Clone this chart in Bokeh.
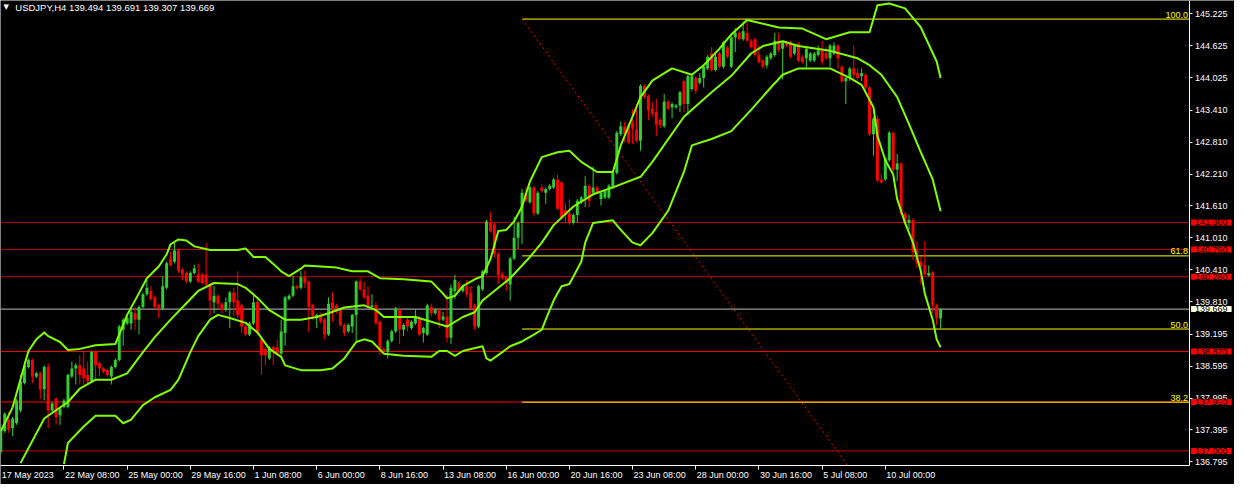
from bokeh.plotting import figure
from bokeh.models import Range1d, FixedTicker, PrintfTickFormatter, Label, ColumnDataSource
from bokeh.embed import file_html
from bokeh.resources import INLINE

# ---------------- data (USDJPY, H4) ----------------
opens = [
    136.98, 137.37, 137.58, 137.43, 137.52, 137.76, 138.28, 138.58, 138.71, 138.40,
    138.46, 138.16, 138.58, 137.76, 137.98, 137.67, 137.83, 137.83, 138.40, 138.55,
    138.61, 138.55, 138.43, 138.31, 138.86, 138.65, 138.55, 138.52, 138.40, 138.58,
    138.71, 139.28, 139.40, 139.40, 139.59, 139.47, 139.71, 139.95, 140.01, 139.89,
    139.74, 139.68, 140.07, 140.62, 140.56, 140.77, 140.41, 140.35, 140.19, 140.35,
    140.32, 140.32, 140.32, 140.13, 139.80, 139.92, 139.77, 139.65, 139.80, 139.98,
    139.83, 139.74, 139.34, 139.19, 139.40, 139.80, 139.10, 138.92, 138.74, 138.95,
    138.95, 138.83, 139.22, 139.86, 139.92, 140.10, 140.07, 140.27, 140.18, 139.74,
    139.50, 139.56, 139.47, 139.19, 139.80, 139.74, 139.65, 139.37, 139.25, 139.34,
    139.56, 140.19, 140.04, 139.92, 139.71, 139.74, 139.43, 138.92, 138.86, 139.07,
    139.25, 139.66, 139.28, 139.47, 139.31, 139.40, 139.50, 139.22, 139.19, 139.71,
    139.59, 139.65, 139.47, 139.53, 139.13, 140.01, 140.16, 140.01, 140.10, 139.98,
    139.74, 139.34, 140.04, 140.35, 141.29, 141.26, 140.71, 140.33, 140.27, 140.13,
    140.62, 141.01, 141.29, 141.86, 141.68, 141.96, 141.47, 141.96, 141.86, 141.93,
    141.96, 142.11, 142.05, 141.53, 141.47, 141.29, 141.44, 141.68, 141.77, 141.99,
    141.86, 141.96, 141.74, 141.77, 141.77, 141.96, 142.23, 142.96, 143.11, 143.14,
    143.17, 143.05, 142.84, 143.87, 143.68, 143.44, 143.38, 143.23, 143.11, 143.57,
    143.47, 143.47, 143.50, 143.96, 143.53, 143.81, 144.02, 143.93, 144.02, 144.20,
    144.48, 144.17, 144.48, 144.23, 144.60, 144.23, 144.78, 144.87, 144.75, 144.87,
    144.72, 144.75, 144.45, 144.35, 144.26, 144.39, 144.45, 144.72, 144.57, 144.69,
    144.69, 144.48, 144.66, 144.42, 144.39, 144.35, 144.35, 144.45, 144.54, 144.48,
    144.39, 144.48, 144.63, 144.23, 143.96, 144.02, 144.20, 144.11, 144.05, 144.08,
    143.84, 142.96, 143.25, 142.11, 142.11, 142.47, 142.99, 142.29, 142.41, 141.47,
    141.29, 141.35, 140.77, 140.56, 140.50, 140.30, 140.36, 139.74, 139.494,
]
highs = [
    137.50, 137.73, 137.73, 137.64, 137.98, 138.43, 138.68, 138.74, 138.74, 138.49,
    138.49, 138.61, 138.65, 137.92, 138.01, 137.83, 137.98, 138.46, 138.68, 138.65,
    138.80, 138.86, 138.68, 138.89, 138.89, 138.68, 138.58, 138.55, 138.61, 138.74,
    139.37, 139.50, 139.53, 139.65, 139.71, 139.74, 139.98, 140.22, 140.10, 139.92,
    139.77, 140.29, 140.56, 140.74, 140.92, 140.80, 140.44, 140.38, 140.38, 140.50,
    140.53, 140.35, 140.92, 140.16, 140.10, 139.95, 139.80, 139.89, 140.01, 140.07,
    140.38, 139.77, 139.37, 139.43, 139.92, 139.89, 139.16, 138.95, 138.98, 138.98,
    139.10, 139.47, 139.92, 139.95, 140.29, 140.13, 140.38, 140.39, 140.21, 139.77,
    139.58, 139.59, 139.50, 139.89, 139.98, 139.77, 139.68, 139.40, 139.40, 139.58,
    140.21, 140.25, 140.19, 140.10, 139.95, 139.80, 139.46, 138.95, 139.10, 139.28,
    139.71, 139.70, 139.40, 139.50, 139.46, 139.65, 139.53, 139.34, 139.77, 139.77,
    139.68, 139.68, 139.62, 139.95, 140.13, 140.31, 140.19, 140.13, 140.22, 140.10,
    139.77, 140.13, 140.40, 141.35, 141.50, 141.29, 140.74, 140.38, 140.30, 140.65,
    141.41, 141.32, 141.93, 141.96, 141.99, 141.99, 141.89, 142.02, 141.96, 142.02,
    142.14, 142.20, 142.08, 141.65, 141.74, 141.47, 141.74, 141.80, 142.17, 142.02,
    142.35, 141.99, 141.89, 141.92, 142.02, 142.26, 143.02, 143.20, 143.20, 143.17,
    143.44, 143.53, 143.90, 143.90, 143.71, 143.57, 143.63, 143.26, 143.72, 143.60,
    143.56, 143.53, 143.78, 143.99, 144.08, 144.08, 144.05, 144.11, 144.26, 144.45,
    144.60, 144.48, 144.51, 144.72, 144.63, 144.81, 144.96, 144.90, 145.08, 145.08,
    144.75, 144.78, 144.63, 144.38, 144.45, 144.51, 144.87, 144.87, 144.72, 144.72,
    144.72, 144.66, 144.69, 144.45, 144.60, 144.51, 144.51, 144.63, 144.72, 144.60,
    144.66, 144.69, 144.66, 144.26, 144.05, 144.23, 144.63, 144.20, 144.20, 144.11,
    143.87, 143.29, 143.32, 142.20, 142.53, 143.02, 143.01, 142.59, 142.44, 141.50,
    141.44, 141.38, 140.94, 140.65, 140.95, 140.49, 140.39, 139.77, 139.691,
]
lows = [
    136.93, 137.34, 137.34, 137.28, 137.49, 137.73, 138.25, 138.55, 138.28, 138.37,
    137.98, 137.95, 137.43, 137.73, 137.49, 137.49, 137.80, 137.80, 138.37, 138.25,
    138.25, 138.25, 138.25, 138.28, 138.31, 138.40, 138.46, 138.40, 138.25, 138.55,
    138.68, 138.98, 139.37, 139.28, 139.28, 139.19, 139.68, 139.92, 139.83, 139.68,
    139.50, 139.65, 140.04, 140.47, 140.53, 140.35, 140.22, 140.16, 140.16, 140.32,
    140.16, 140.13, 140.10, 139.56, 139.59, 139.68, 139.59, 139.62, 139.31, 139.53,
    139.50, 139.22, 139.16, 139.16, 139.37, 139.19, 138.43, 138.61, 138.71, 138.61,
    138.80, 138.80, 138.98, 139.83, 139.89, 140.04, 140.04, 140.07, 139.23, 139.47,
    139.31, 139.40, 139.10, 139.16, 139.43, 139.59, 139.34, 139.16, 139.22, 139.22,
    139.07, 140.01, 139.86, 139.68, 139.68, 139.38, 138.80, 138.83, 138.74, 139.04,
    139.22, 139.01, 139.16, 139.25, 139.28, 139.37, 139.16, 139.04, 139.16, 139.53,
    139.56, 139.31, 139.44, 139.04, 139.01, 139.86, 139.98, 139.98, 139.89, 139.65,
    139.28, 139.31, 140.01, 140.32, 141.11, 140.65, 140.15, 140.22, 140.01, 139.83,
    140.59, 140.80, 140.89, 141.68, 141.65, 141.41, 141.44, 141.86, 141.65, 141.90,
    141.93, 141.53, 141.35, 141.29, 141.26, 141.26, 141.29, 141.65, 141.59, 141.59,
    141.83, 141.83, 141.62, 141.74, 141.74, 141.93, 142.20, 142.93, 142.81, 142.78,
    142.78, 142.81, 142.65, 143.63, 143.23, 143.29, 142.93, 143.08, 143.08, 143.41,
    143.26, 143.44, 143.38, 143.38, 143.32, 143.78, 143.72, 143.90, 143.84, 144.17,
    144.14, 144.14, 144.20, 144.20, 144.39, 144.20, 144.51, 144.72, 144.72, 144.69,
    144.57, 144.42, 144.29, 144.20, 144.20, 144.36, 144.42, 144.51, 143.99, 144.60,
    144.39, 144.45, 144.32, 144.29, 144.20, 144.32, 144.32, 144.42, 144.26, 144.36,
    144.23, 144.45, 144.20, 143.93, 143.53, 143.96, 143.96, 143.99, 143.96, 143.78,
    142.93, 142.56, 142.06, 142.03, 142.08, 142.44, 142.23, 142.08, 141.44, 141.26,
    141.17, 140.59, 140.44, 140.13, 140.30, 140.28, 139.59, 139.37, 139.307,
]
closes = [
    137.40, 137.70, 137.40, 137.61, 137.95, 138.31, 138.61, 138.71, 138.40, 138.46,
    138.16, 138.58, 137.76, 137.89, 137.64, 137.80, 137.95, 138.43, 138.55, 138.61,
    138.43, 138.37, 138.31, 138.86, 138.61, 138.55, 138.49, 138.43, 138.58, 138.71,
    139.34, 139.47, 139.50, 139.62, 139.47, 139.71, 139.95, 140.07, 139.86, 139.71,
    139.68, 140.10, 140.53, 140.50, 140.77, 140.38, 140.32, 140.19, 140.35, 140.44,
    140.19, 140.16, 140.13, 139.83, 139.92, 139.77, 139.65, 139.80, 139.98, 139.80,
    139.56, 139.34, 139.19, 139.40, 139.80, 139.22, 138.80, 138.80, 138.95, 138.86,
    138.83, 139.25, 139.89, 139.92, 140.10, 140.06, 140.27, 140.16, 139.71, 139.53,
    139.56, 139.43, 139.19, 139.77, 139.65, 139.62, 139.37, 139.22, 139.37, 139.56,
    140.19, 140.04, 139.89, 139.71, 139.74, 139.40, 138.89, 138.86, 139.07, 139.25,
    139.68, 139.28, 139.37, 139.34, 139.43, 139.50, 139.19, 139.31, 139.74, 139.59,
    139.65, 139.47, 139.53, 139.13, 140.07, 140.22, 140.01, 140.10, 139.95, 139.68,
    139.34, 140.10, 140.38, 141.32, 141.14, 140.71, 140.31, 140.25, 140.16, 140.62,
    141.01, 141.29, 141.86, 141.71, 141.96, 141.47, 141.86, 141.89, 141.93, 141.99,
    142.11, 141.56, 141.38, 141.44, 141.29, 141.44, 141.71, 141.77, 141.99, 141.71,
    141.96, 141.86, 141.86, 141.89, 141.99, 142.23, 142.99, 143.11, 142.96, 142.81,
    143.08, 142.84, 143.87, 143.66, 143.41, 143.35, 143.14, 143.14, 143.57, 143.44,
    143.53, 143.50, 143.75, 143.53, 144.05, 144.05, 143.78, 144.02, 144.23, 144.42,
    144.17, 144.42, 144.23, 144.69, 144.42, 144.78, 144.87, 144.75, 144.90, 144.72,
    144.60, 144.45, 144.32, 144.23, 144.42, 144.48, 144.72, 144.54, 144.69, 144.63,
    144.42, 144.63, 144.35, 144.32, 144.57, 144.48, 144.48, 144.54, 144.32, 144.39,
    144.63, 144.63, 144.39, 143.96, 144.02, 144.20, 144.08, 144.02, 144.11, 143.84,
    142.96, 143.25, 142.09, 142.05, 142.50, 142.99, 142.29, 142.41, 141.47, 141.29,
    141.35, 140.74, 140.53, 140.47, 140.32, 140.35, 139.74, 139.50, 139.669,
]

# channel indicator (upper / middle / lower)
upper_bar = [0, 3, 7, 9, 11, 12, 15, 17, 20, 24, 29, 31, 32, 35, 37, 40, 42, 43, 45, 47,
             49, 53, 60, 62, 64, 67, 69, 71, 73, 76, 77, 85, 89, 93, 96, 102, 109, 112, 113, 115,
             117, 120, 122, 124, 126, 128, 130, 132, 134, 137, 141, 144, 147, 151, 155, 157, 162, 165, 170, 175,
             178, 182, 185, 189, 197, 203, 209, 215, 220, 222, 225, 229, 233, 237, 238]
upper_val = [137.37, 137.82, 138.88, 139.10, 139.23, 139.16, 139.05, 138.90, 138.92, 138.99,
             139.01, 139.37, 139.56, 139.97, 140.25, 140.47, 140.70, 140.89, 140.98, 140.96,
             140.85, 140.78, 140.78, 140.81, 140.65, 140.65, 140.52, 140.38, 140.29, 140.43,
             140.49, 140.45, 140.38, 140.38, 140.25, 140.23, 140.19, 139.96, 139.87, 139.92,
             140.10, 140.23, 140.29, 140.61, 141.14, 141.16, 141.32, 141.60, 142.07, 142.53,
             142.62, 142.65, 142.44, 142.25, 142.25, 142.75, 143.66, 143.97, 144.20, 144.08,
             144.26, 144.57, 144.84, 145.11, 144.97, 144.95, 144.75, 144.88, 144.88, 145.39,
             145.42, 145.33, 144.97, 144.33, 144.02]
mid_bar = [5, 11, 17, 20, 24, 28, 32, 36, 39, 43, 47, 50, 54, 60, 62, 65, 68, 72, 76, 80,
           83, 87, 92, 95, 97, 105, 110, 113, 117, 120, 122, 126, 129, 134, 137, 140, 145, 150, 155, 162,
           165, 173, 180, 185, 190, 193, 198, 202, 210, 217, 220, 223, 227, 230, 233, 236, 238]
mid_val = [136.77, 137.61, 137.92, 138.17, 138.34, 138.34, 138.46, 138.86, 139.14, 139.47,
           139.78, 140.01, 140.16, 140.14, 140.07, 139.88, 139.65, 139.47, 139.47, 139.52,
           139.59, 139.70, 139.74, 139.65, 139.52, 139.52, 139.41, 139.34, 139.52, 139.61,
           139.83, 140.07, 140.25, 140.65, 140.92, 141.25, 141.60, 141.83, 141.96, 142.16,
           142.44, 143.29, 143.75, 144.06, 144.48, 144.62, 144.71, 144.62, 144.53, 144.39,
           144.26, 144.08, 143.66, 143.15, 142.62, 142.11, 141.51]
low_bar = [16, 17, 21, 24, 29, 31, 33, 36, 39, 43, 45, 48, 50, 53, 55, 58, 62, 65, 68, 71,
           72, 76, 81, 84, 87, 90, 92, 94, 97, 102, 109, 111, 113, 115, 117, 122, 123, 124, 127, 129,
           132, 135, 137, 138, 140, 142, 144, 147, 148, 150, 155, 157, 160, 162, 165, 169, 173, 175, 180, 185,
           190, 195, 198, 202, 210, 215, 218, 221, 222, 224, 226, 227, 229, 231, 233, 234, 236, 237, 238]
low_val = [136.75, 137.15, 137.46, 137.66, 137.66, 137.52, 137.59, 137.86, 138.01, 138.15,
           138.34, 138.86, 139.16, 139.47, 139.56, 139.50, 139.41, 139.23, 138.92, 138.77,
           138.61, 138.52, 138.52, 138.55, 138.74, 139.05, 139.10, 139.06, 138.83, 138.79,
           138.77, 138.88, 138.88, 138.79, 138.88, 138.97, 138.74, 138.70, 138.86, 138.97,
           139.06, 139.19, 139.28, 139.47, 139.83, 140.10, 140.14, 140.56, 140.92, 141.29,
           141.34, 141.16, 140.92, 140.87, 141.10, 141.52, 142.25, 142.75, 142.87, 143.02,
           143.42, 143.84, 144.08, 144.20, 144.20, 144.02, 143.89, 143.47, 142.93, 142.47,
           142.20, 141.74, 141.29, 140.92, 140.38, 139.96, 139.47, 139.10, 138.95]

# horizontal levels
hline_vals = [141.300, 140.790, 140.280, 138.870, 137.920, 137.000]
hline_colors = ["#C00000", "#C00000", "#C00000", "#FF0000", "#FF0000", "#C00000"]
bid_price = 139.669

# Fibonacci
fib_levels = [100.0, 61.8, 50.0, 38.2]
fib_high = 145.128
fib_low = 133.46
fib_start_bar = 132
fib_end_bar = 246.5

# axis ticks / labels
ytick_vals = [145.225, 144.625, 144.025, 143.410, 142.810, 142.210, 141.610, 141.010,
              140.410, 139.810, 139.195, 138.595, 137.995, 137.395, 136.795]
date_tick_bars = [0, 16, 32, 48, 64, 80, 96, 112, 128, 144, 160, 176, 192, 208, 224]
date_labels = ["17 May 2023", "22 May 08:00", "25 May 00:00", "29 May 16:00", "1 Jun 08:00",
               "6 Jun 00:00", "8 Jun 16:00", "13 Jun 08:00", "16 Jun 00:00", "20 Jun 16:00",
               "23 Jun 08:00", "28 Jun 00:00", "30 Jun 16:00", "5 Jul 08:00", "10 Jul 00:00"]
title_text = "USDJPY,H4  139.494 139.691 139.307 139.669"

# ---------------- layout ----------------
W, H = 1234, 484
REF_W, REF_H = 1250, 500          # layout grid of the original screen
PX_PER_BAR = 4.0                  # in the original grid
PX_PER_PRICE = 54.88
X_START = -0.075
Y_TOP = 145.478
X_END = X_START + REF_W / PX_PER_BAR
Y_BOTTOM = Y_TOP - REF_H / PX_PER_PRICE
CHART_RIGHT = X_START + 1204 / PX_PER_BAR
CHART_BOTTOM = Y_TOP - 480 / PX_PER_PRICE


def rx(px):
    return X_START + px / PX_PER_BAR


def ry(pyv):
    return Y_TOP - pyv / PX_PER_PRICE


FONT = "Liberation Sans"
UP = "#32CD32"
DOWN = "#FF0000"
BAND = "#80FF00"

p = figure(width=W, height=H, output_backend="svg", toolbar_location=None, title=None,
           x_range=Range1d(X_START, X_END), y_range=Range1d(Y_BOTTOM, Y_TOP),
           y_axis_location="right", x_axis_location="below",
           min_border_left=0, min_border_top=0, min_border_right=0, min_border_bottom=0)
p.background_fill_color = "black"
p.border_fill_color = "black"
p.outline_line_color = None
p.grid.visible = False

# price axis (right), placed at the chart edge
p.yaxis.fixed_location = CHART_RIGHT
p.yaxis.bounds = (CHART_BOTTOM, Y_TOP)
p.yaxis.ticker = FixedTicker(ticks=ytick_vals)
p.yaxis.formatter = PrintfTickFormatter(format="%.3f")
p.yaxis.major_label_text_color = "white"
p.yaxis.major_label_text_font = FONT
p.yaxis.major_label_text_font_size = "9px"
p.yaxis.axis_line_color = "white"
p.yaxis.major_tick_line_color = "white"
p.yaxis.major_tick_out = 3
p.yaxis.major_tick_in = 0
p.yaxis.minor_tick_line_color = None
p.yaxis.major_label_standoff = 3

# time axis (bottom): ticks; labels left-aligned as annotations
p.xaxis.fixed_location = CHART_BOTTOM
p.xaxis.bounds = (X_START, CHART_RIGHT)
p.xaxis.ticker = FixedTicker(ticks=date_tick_bars[1:])
p.xaxis.axis_line_color = "white"
p.xaxis.major_tick_line_color = "white"
p.xaxis.major_tick_out = 4
p.xaxis.major_tick_in = 0
p.xaxis.minor_tick_line_color = None
p.xaxis.major_label_text_font_size = "1px"
p.xaxis.major_label_text_alpha = 0
p.xaxis.major_label_standoff = 0

# horizontal level lines (stop at the price scale)
nh = len(hline_vals)
p.segment(x0=[X_START] * nh, y0=hline_vals, x1=[CHART_RIGHT] * nh, y1=hline_vals,
          line_color=hline_colors, line_width=1)
p.segment(x0=[X_START], y0=[bid_price], x1=[CHART_RIGHT], y1=[bid_price],
          line_color="#C0C0C0", line_width=1)

# Fibonacci
fib_prices = [fib_low + (fib_high - fib_low) * l / 100.0 for l in fib_levels]
nf = len(fib_prices)
p.segment(x0=[fib_start_bar] * nf, y0=fib_prices, x1=[CHART_RIGHT] * nf, y1=fib_prices,
          line_color="#FFFF00", line_width=1)
t_cut = (fib_high - CHART_BOTTOM) / (fib_high - fib_low)
diag_end_bar = fib_start_bar + t_cut * (fib_end_bar - fib_start_bar)
p.line([fib_start_bar, diag_end_bar], [fib_high, CHART_BOTTOM], line_color="#FF0000",
       line_width=1, line_dash="2 3")

# candles
n = len(opens)
idx = list(range(n))
cols = [UP if c >= o else DOWN for o, c in zip(opens, closes)]
tops = [max(o, c) for o, c in zip(opens, closes)]
bots = [min(o, c) for o, c in zip(opens, closes)]
bots = [b if t - b > 0.012 else t - 0.012 for t, b in zip(tops, bots)]
src = ColumnDataSource(dict(x=idx, top=tops, bot=bots, hi=highs, lo=lows, col=cols))
p.segment(x0="x", y0="lo", x1="x", y1="hi", line_color="col", line_width=1, source=src)
p.vbar(x="x", width=0.75, top="top", bottom="bot", fill_color="col", line_color=None, source=src)

# channel bands
for bars, vals in ((upper_bar, upper_val), (mid_bar, mid_val), (low_bar, low_val)):
    p.line(bars, vals, line_color=BAND, line_width=2, line_join="round")

# fib labels
for l, fp in zip(fib_levels, fib_prices):
    p.add_layout(Label(x=rx(1203), y=fp + 1.5 / PX_PER_PRICE, text=f"{l:.1f}", text_align="right",
                       text_baseline="bottom", text_color="#FFFF00",
                       text_font=FONT, text_font_size="9px"))

# price boxes on the price scale
for v in hline_vals:
    p.add_layout(Label(x=rx(1206), y=v, text=f"{v:.3f}", text_align="left",
                       text_baseline="middle", text_color="black", text_font=FONT,
                       text_font_size="9px", background_fill_color="#FF0000",
                       padding=(4, 0)))
p.add_layout(Label(x=rx(1206), y=bid_price, text=f"{bid_price:.3f}", text_align="left",
                   text_baseline="middle", text_color="black", text_font=FONT,
                   text_font_size="9px", background_fill_color="#FFFFE6",
                   padding=(4, 0)))

# date labels (start at their tick, MT4 style)
for b, t in zip(date_tick_bars, date_labels):
    xl = max(b + 0.25, rx(0.5))
    p.add_layout(Label(x=xl, y=ry(485), text=t, text_align="left", text_baseline="top",
                       text_color="white", text_font=FONT, text_font_size="9px"))

# title
p.add_layout(Label(x=rx(3), y=ry(3), text="\u25BC", text_align="left", text_baseline="top",
                   text_color="white", text_font="DejaVu Sans", text_font_size="7px"))
p.add_layout(Label(x=rx(15), y=ry(1.5), text=title_text, text_align="left", text_baseline="top",
                   text_color="white", text_font=FONT, text_font_size="9.5px"))

open("out.html", "w").write(file_html(p, INLINE))
